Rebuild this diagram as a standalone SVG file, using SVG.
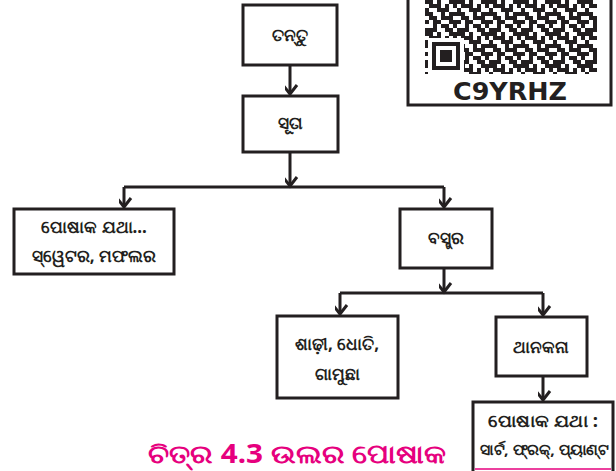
<svg xmlns="http://www.w3.org/2000/svg" width="616" height="471" viewBox="0 0 616 471">
  <style>
    .box { fill: #ffffff; stroke: #231f20; stroke-width: 3; }
    .lbl { font-family: "Noto Sans", "DejaVu Sans", sans-serif; font-size: 17px; font-weight: bold; fill: #231f20; text-anchor: middle; }
    .con { fill: none; stroke: #231f20; stroke-width: 3; }
    .cap { font-family: "Noto Sans", "DejaVu Sans", sans-serif; font-size: 26px; font-weight: bold; fill: #e6007e; }
  </style>
  <defs>
    <marker id="arr" markerUnits="userSpaceOnUse" markerWidth="20" markerHeight="20" refX="0" refY="0" viewBox="-10 -12 20 14" orient="auto-start-reverse">
      <path d="M-9,-7 L0,0 L-9,7" fill="none" stroke="#231f20" stroke-width="3" stroke-linejoin="miter"/>
    </marker>
    <pattern id="qr" patternUnits="userSpaceOnUse" x="425" y="0" width="32" height="32">
      <path fill="#231f20" d="M0 0h8v4h-8z M12 0h4v4h-4z M24 0h8v4h-8z M4 4h12v4h-12z M20 4h4v4h-4z M28 4h4v4h-4z M0 8h4v4h-4z M12 8h12v4h-12z M0 12h8v4h-8z M16 12h4v4h-4z M24 12h8v4h-8z M4 16h8v4h-8z M16 16h12v4h-12z M0 20h4v4h-4z M8 20h8v4h-8z M24 20h8v4h-8z M8 24h4v4h-4z M16 24h8v4h-8z M28 24h4v4h-4z M0 28h12v4h-12z M20 28h8v4h-8z"/>
    </pattern>
  </defs>

  <g id="qrcode">
    <rect x="408" y="-3" width="203" height="108" fill="#ffffff" stroke="#231f20" stroke-width="3"/>
    <rect x="425" y="0" width="172" height="74" fill="url(#qr)"/>
    <rect x="428" y="38" width="36" height="36" fill="#ffffff"/>
    <rect x="432" y="42" width="28" height="28" fill="#231f20"/>
    <rect x="436" y="46" width="20" height="20" fill="#ffffff"/>
    <rect x="440" y="50" width="12" height="12" fill="#231f20"/>
    <text x="510" y="100" font-family="DejaVu Sans" font-size="24" font-weight="bold" fill="#231f20" text-anchor="middle" textLength="114" lengthAdjust="spacingAndGlyphs">C9YRHZ</text>
  </g>

  <g id="connectors">
    <path class="con" d="M290 66 V94" marker-end="url(#arr)"/>
    <path class="con" d="M290 153 V186" marker-end="url(#arr)"/>
    <path class="con" d="M124 187 H444"/>
    <path class="con" d="M124 187 V207" marker-end="url(#arr)"/>
    <path class="con" d="M444 187 V207" marker-end="url(#arr)"/>
    <path class="con" d="M444 268 V292" marker-end="url(#arr)"/>
    <path class="con" d="M340 293 H543"/>
    <path class="con" d="M340 293 V314" marker-end="url(#arr)"/>
    <path class="con" d="M543 293 V315" marker-end="url(#arr)"/>
    <path class="con" d="M543 376 V400" marker-end="url(#arr)"/>
  </g>

  <g id="n-tantu">
    <rect class="box" x="243" y="5" width="94" height="60"/>
    <text class="lbl" x="290" y="41">ତନ୍ତୁ</text>
  </g>
  <g id="n-suta">
    <rect class="box" x="243" y="96" width="95" height="56"/>
    <text class="lbl" x="290" y="129">ସୂତା</text>
  </g>
  <g id="n-poshak1">
    <rect class="box" x="14" y="209" width="160" height="65"/>
    <text class="lbl" x="94" y="233">ପୋଷାକ ଯଥା...</text>
    <text class="lbl" x="94" y="262">ସ୍ୱେଟର, ମଫଲର</text>
  </g>
  <g id="n-bastra">
    <rect class="box" x="400" y="209" width="92" height="59"/>
    <text class="lbl" x="446" y="244">ବସ୍ତ୍ର</text>
  </g>
  <g id="n-sari">
    <rect class="box" x="277" y="316" width="121" height="82"/>
    <text class="lbl" x="337" y="350">ଶାଢ଼ୀ, ଧୋତି,</text>
    <text class="lbl" x="337" y="380">ଗାମୁଛା</text>
  </g>
  <g id="n-thanakana">
    <rect class="box" x="496" y="317" width="91" height="59"/>
    <text class="lbl" x="541" y="353">ଥାନକନା</text>
  </g>
  <g id="n-poshak2">
    <rect class="box" x="473" y="402" width="140" height="80"/>
    <line x1="475" y1="469" x2="611" y2="469" stroke="#e6007e" stroke-width="1.5"/>
    <text class="lbl" x="543" y="427" textLength="110" lengthAdjust="spacingAndGlyphs">ପୋଷାକ ଯଥା :</text>
    <text class="lbl" x="544" y="455" style="font-size:15px" textLength="128" lengthAdjust="spacingAndGlyphs">ସାର୍ଟ, ଫ୍ରକ୍, ପ୍ୟାଣ୍ଟ</text>
  </g>

  <g id="caption">
    <text class="cap" x="148" y="463" textLength="298" lengthAdjust="spacingAndGlyphs">ଚିତ୍ର 4.3  ଉଲର ପୋଷାକ</text>
  </g>
</svg>
